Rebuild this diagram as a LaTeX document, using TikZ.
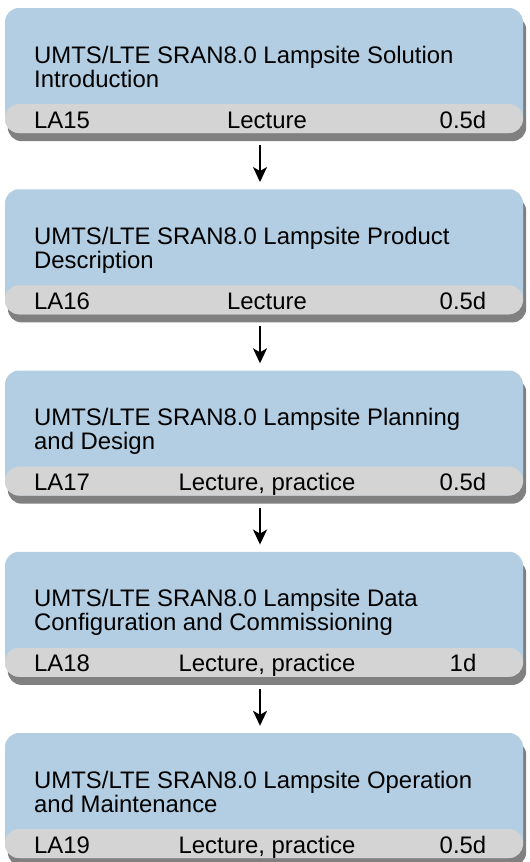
\documentclass[tikz,border=0pt]{standalone}
\usepackage{fontspec}
\setmainfont{Liberation Sans}
\usetikzlibrary{arrows.meta,backgrounds}
\definecolor{boxblue}{RGB}{179,206,226}
\definecolor{bandgray}{RGB}{212,212,212}
\definecolor{shadowgray}{RGB}{128,128,128}
\tikzset{
  coursebox/.style={rectangle, rounded corners=14pt, minimum width=518pt, minimum height=125pt,
    inner sep=0pt, fill=boxblue,
    path picture={\fill[bandgray] (path picture bounding box.south west) rectangle ([yshift=29pt]path picture bounding box.south east);}},
  boxshadow/.style={fill=shadowgray, rounded corners=14pt},
  txt/.style={font=\fontsize{23.9}{24}\selectfont, inner sep=0pt, text=black},
  title/.style={txt, anchor=base west, align=left},
  arr/.style={line width=2pt, -{Stealth[length=15pt,width=14pt,inset=4pt]}}
}
\begin{document}
\begin{tikzpicture}[x=1pt,y=-1pt]
\useasboundingbox (0,0) rectangle (530,862);
\foreach \i/\title/\code/\kind/\dur in {
  1/{UMTS/LTE SRAN8.0 Lampsite Solution\\Introduction}/LA15/Lecture/0.5d,
  2/{UMTS/LTE SRAN8.0 Lampsite Product\\Description}/LA16/Lecture/0.5d,
  3/{UMTS/LTE SRAN8.0 Lampsite Planning\\and Design}/LA17/{Lecture, practice}/0.5d,
  4/{UMTS/LTE SRAN8.0 Lampsite Data\\Configuration and Commissioning}/LA18/{Lecture, practice}/1d,
  5/{UMTS/LTE SRAN8.0 Lampsite Operation\\and Maintenance}/LA19/{Lecture, practice}/0.5d}{
  \pgfmathsetmacro{\T}{8+181.25*(\i-1)}
  \node[coursebox] (b\i) at (264,\T+62.5) {};
  \begin{scope}[on background layer]
    \fill[boxshadow] ([shift={(3pt,-8pt)}]b\i.south west) rectangle ([shift={(3pt,-8pt)}]b\i.north east);
  \end{scope}
  \node[title] (t\i) at (34,\T+79) {\title};
  \node[txt, anchor=base west] (c\i) at (34,\T+120) {\code};
  \node[txt, anchor=base] (k\i) at (267,\T+120) {\kind};
  \node[txt, anchor=base] (d\i) at (463,\T+120) {\dur};
}
\foreach \i [evaluate=\i as \j using int(\i+1)] in {1,2,3,4}{
  \draw[arr] ([shift={(-4pt,-12pt)}]b\i.south) -- ([shift={(-4pt,7pt)}]b\j.north);
}
\end{tikzpicture}
\end{document}
